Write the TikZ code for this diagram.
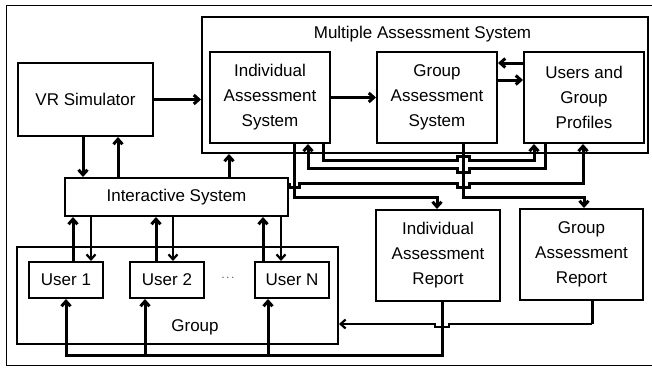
\documentclass[tikz,border=0pt]{standalone}
\usepackage{fontspec}
\setmainfont{Liberation Sans}
\usetikzlibrary{positioning,arrows.meta}

\begin{document}
\begin{tikzpicture}[x=1pt, y=-1pt, >={Straight Barb[length=5pt,width=9pt]},
                    every node/.style={font=\fontsize{17}{25}\selectfont, align=center},
                    box/.style={draw, line width=2pt, inner sep=0pt},
                    link/.style={line width=3pt},
                    thin link/.style={line width=2.2pt}]
\useasboundingbox (0,0) rectangle (652,367);
\draw[line width=1pt] (660,5) -- (6,5) -- (6,365) -- (660,365);
% containers
\node[box, minimum width=446pt, minimum height=136pt] (mas) at (425,85) {};
\node (maslbl) at (422.5,34) {Multiple Assessment System};
\node[box, minimum width=321pt, minimum height=97pt] (grp) at (177.5,295.5) {};
\node (grplbl) at (195,327) {Group};
% blocks
\node[box, minimum width=135pt, minimum height=73pt] (vr) at (85.5,99.5) {VR Simulator};
\node[box, minimum width=120pt, minimum height=91pt] (ias) at (270,97.5) {Individual\\Assessment\\System};
\node[box, minimum width=120pt, minimum height=91pt, right=45pt of ias] (gas) {Group\\Assessment\\System};
\node[box, minimum width=120pt, minimum height=91pt, right=25pt of gas] (ugp) {Users and\\Group\\Profiles};
\node[box, minimum width=223pt, minimum height=38pt] (is) at (176.5,197) {Interactive System};
\node[box, minimum width=74pt, minimum height=36pt] (u1) at (66,280) {User 1};
\node[box, minimum width=74pt, minimum height=36pt, right=25pt of u1] (u2) {User 2};
\node[box, minimum width=74pt, minimum height=36pt, right=49pt of u2] (un) {User N};
\node[font=\fontsize{11}{11}\selectfont] (dots) at (228,278) {$\cdots$};
\node[box, minimum width=124pt, minimum height=91pt] (iar) at (438,255.5) {Individual\\Assessment\\Report};
\node[box, minimum width=123pt, minimum height=91pt] (gar) at (581.5,254.5) {Group\\Assessment\\Report};
\coordinate (bus) at (66,355);
% simulator and interactive system
\draw[link,->] (vr.east) -- (vr.east -| mas.west);
\draw[link,->] (83,0 |- vr.south) -- (83,0 |- is.north);
\draw[link,->] (118,0 |- is.north) -- (118,0 |- vr.south);
\draw[link,->] (229,0 |- is.north) -- (229,0 |- mas.south);
% inside the assessment system
\draw[link,->] (ias.east) -- (gas.west);
\draw[link,->] (ugp.west |- 0,63) -- (gas.east |- 0,63);
\draw[link,->] (gas.east |- 0,80) -- (ugp.west |- 0,80);
% users
\draw[link,->] (73,0 |- u1.north) -- (73,0 |- is.south);
\draw[thin link,->] (91,0 |- is.south) -- (91,0 |- u1.north);
\draw[link,->] (156,0 |- u2.north) -- (156,0 |- is.south);
\draw[thin link,->] (173,0 |- is.south) -- (173,0 |- u2.north);
\draw[link,->] (263,0 |- un.north) -- (263,0 |- is.south);
\draw[thin link,->] (281,0 |- is.south) -- (281,0 |- un.north);
% reports back to the users
\draw[link,->] (442,0 |- iar.south) |- (bus) -- (u1.south);
\draw[link,->] (145,0 |- bus) -- (145,0 |- u2.south);
\draw[link,->] (268,0 |- bus) -- (268,0 |- un.south);
\draw[link] (592,0 |- gar.south) -- (592,324);
\draw[thin link,->] (592,324) -- (449,324) -- (449,327) -- (435,327) -- (435,324) -- (grp.east |- 0,324);
% crossing lines below the assessment system
\draw[link,->] (294,0 |- ias.south) -- (294,197) -| (437,0 |- iar.north);
\draw[link,->] (463,0 |- gas.south) -- (463,197) -| (584,0 |- gar.north);
\draw[link,->] (323,0 |- ias.south) -- (323,160) -- (457,160) -- (457,156) -- (469,156) -- (469,160) -| (534,0 |- ugp.south);
\draw[link,->] (545,0 |- ugp.south) -- (545,168) -- (469,168) -- (469,172) -- (457,172) -- (457,168) -| (308,0 |- ias.south);
\draw[link,->] (is.east |- 0,183) -- (289,183) -- (289,187) -- (299,187) -- (299,183) -- (457,183) -- (457,187) -- (469,187) -- (469,183) -| (583,0 |- ugp.south);
\end{tikzpicture}
\end{document}
